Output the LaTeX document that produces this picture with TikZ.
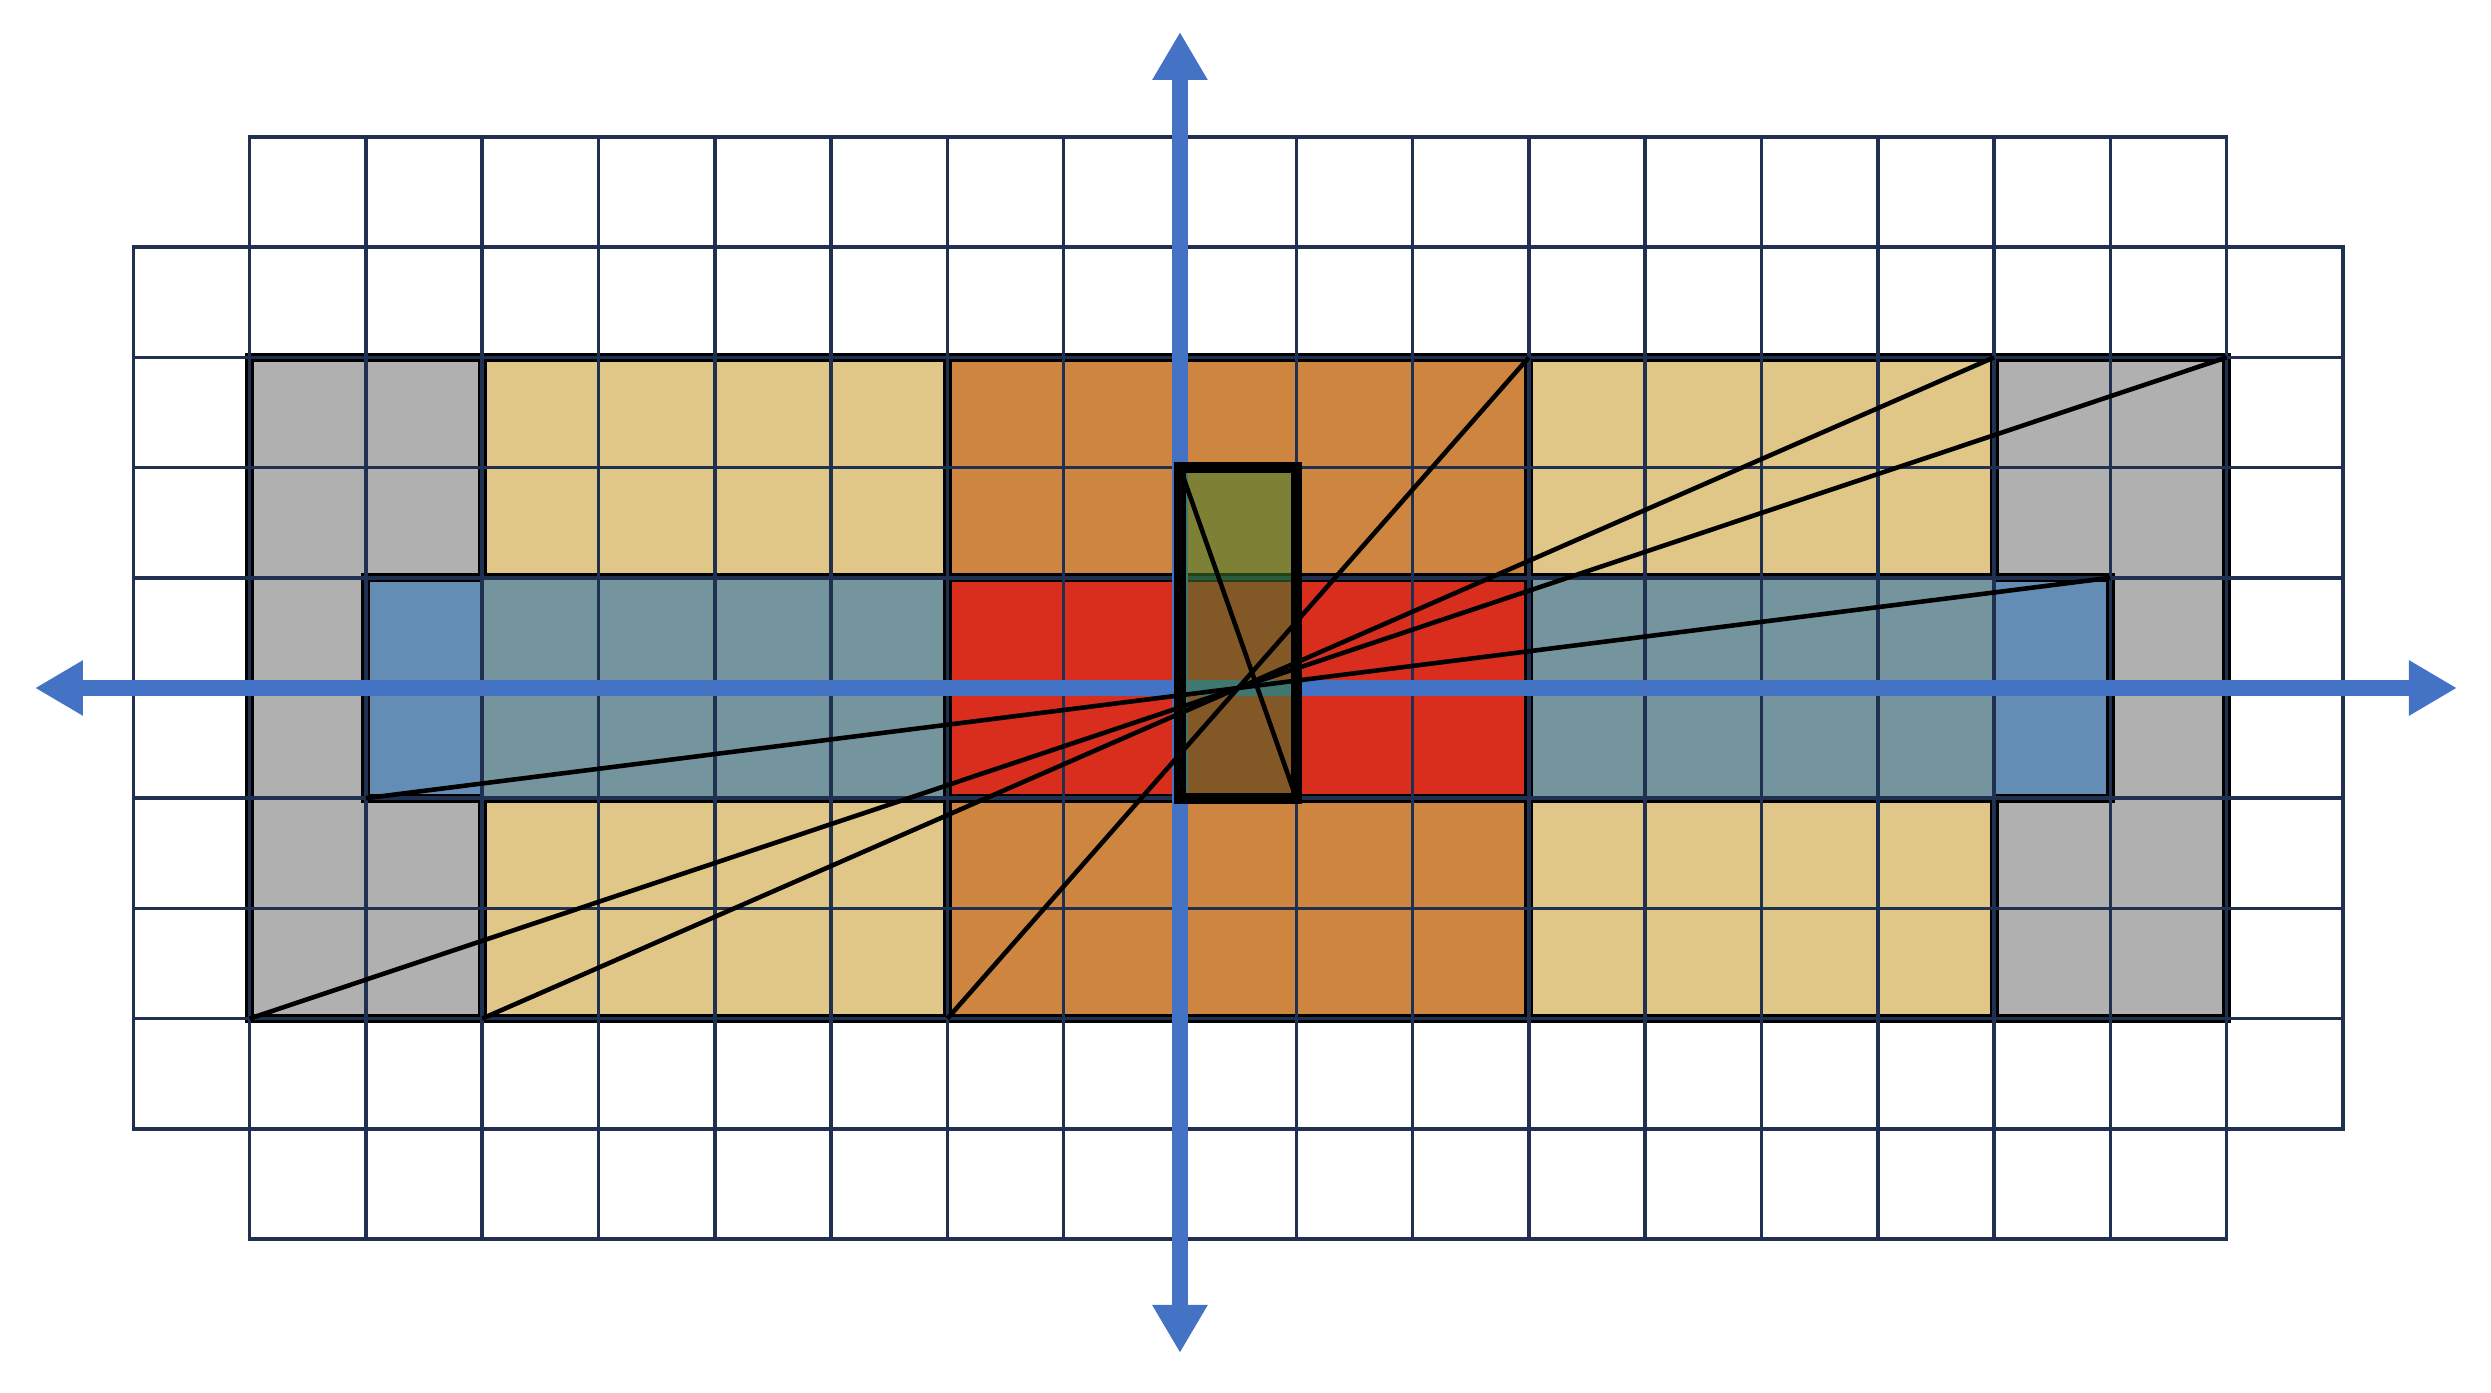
\documentclass[tikz,border=0pt]{standalone}
\usepackage{tikz}
\usetikzlibrary{arrows.meta}
\definecolor{gridnavy}{RGB}{31,48,80}
\definecolor{axisblue}{RGB}{68,114,196}
\definecolor{bandgray}{RGB}{176,176,176}
\definecolor{bandtan}{RGB}{224,199,135}
\definecolor{bandorange}{RGB}{205,133,63}
\definecolor{bandblue}{RGB}{99,141,181}
\definecolor{bandsteel}{RGB}{116,149,158}
\definecolor{bandred}{RGB}{217,45,30}
\definecolor{coregreen}{RGB}{60,125,45}
\tikzstyle{cell} = [draw=gridnavy,line width=1pt,xstep=1.163cm,ystep=1.102cm]
\tikzstyle{area} = [draw=black,line width=2.6pt]
\tikzstyle{axis} = [draw=axisblue,line width=4.5pt,{Triangle[length=4.8mm,width=5.2mm]}-{Triangle[length=4.8mm,width=5.2mm]}]
\tikzstyle{core} = [draw=black,line width=3.2pt,fill=coregreen,fill opacity=0.55]
\tikzstyle{diag} = [draw=black,line width=1.3pt]

\begin{document}
\begin{tikzpicture}[x=1.163cm,y=1.102cm]
\useasboundingbox (-10.146,-6.397) rectangle (11.273,6.243);

% coloured bands
\filldraw[area,fill=bandgray] (-8,-3) rectangle (9,3);
\filldraw[area,fill=bandtan] (-6,-3) rectangle (-2,3);
\filldraw[area,fill=bandtan] (3,-3) rectangle (7,3);
\filldraw[area,fill=bandorange] (-2,-3) rectangle (3,3);
\filldraw[area,fill=bandblue] (-7,-1) rectangle (8,1);
\fill[bandsteel] (-6,-1) rectangle (-2,1) (3,-1) rectangle (7,1);
\filldraw[area,fill=bandred] (-2,-1) rectangle (3,1);

% grid
\draw[cell] (-9,-4) grid (10,4) (-9,-4) rectangle (10,4);
\draw[cell] (-8,4) grid (9,5) (-8,4) rectangle (9,5);
\draw[cell] (-8,-5) grid (9,-4) (-8,-5) rectangle (9,-4);

% axes
\draw[axis] (-9.845,0) -- (10.98,0);
\draw[axis] (0,-6.034) -- (0,5.953);

% centre box
\draw[core] (0,-1) rectangle (1,2);

% diagonals
\draw[diag] (-8,-3) -- (9,3);
\draw[diag] (-6,-3) -- (7,3);
\draw[diag] (-2,-3) -- (3,3);
\draw[diag] (-7,-1) -- (8,1);
\draw[diag] (0,2) -- (1,-1);

\end{tikzpicture}
\end{document}
